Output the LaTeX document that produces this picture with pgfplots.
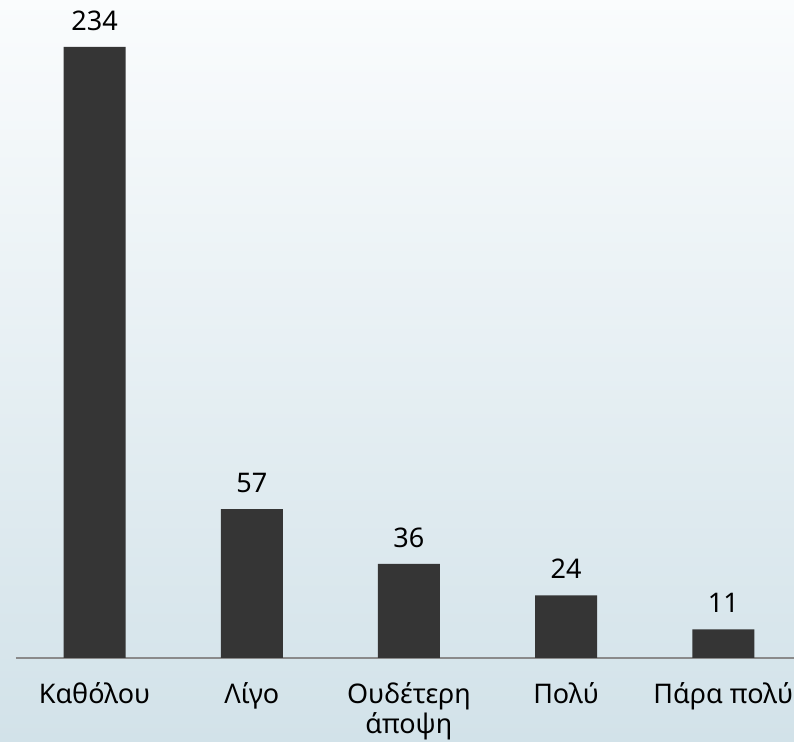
\documentclass[border=0pt]{standalone}
\usepackage{pgfplots}
\pgfplotsset{compat=1.18}
\usepackage{fontspec}
\setmainfont{Noto Sans}
\definecolor{bgtop}{HTML}{FAFCFD}
\definecolor{bgbot}{HTML}{D2E2E9}
\definecolor{barcol}{HTML}{353535}
\definecolor{axcol}{HTML}{8A8A8A}
\begin{document}
\begin{tikzpicture}
% 1 px = 0.5pt, picture 794x742 px
\useasboundingbox (0,0) rectangle (397pt,371pt);
\clip (0,0) rectangle (397pt,371pt);
\shade[top color=bgtop, bottom color=bgbot] (0,0) rectangle (397pt,371pt);
\begin{axis}[
    at={(8pt,42pt)}, anchor=south west,
    scale only axis,
    width=389pt, height=329pt,
    xmin=-0.5, xmax=4.45,
    ymin=0, ymax=252,
    axis x line*=bottom,
    axis y line=none,
    x axis line style={-, draw=axcol, line width=1pt},
    xtick=data,
    xticklabels={Καθόλου, Λίγο, {Ουδέτερη\\άποψη}, Πολύ, Πάρα πολύ},
    major tick length=0pt,
    xticklabel style={align=center, inner sep=0pt, yshift=-12pt, font=\fontsize{13.5}{15}\selectfont},
    ybar, bar width=31pt,
    /pgf/number format/assume math mode=true,
    nodes near coords,
    nodes near coords style={anchor=south, inner sep=0pt, yshift=8pt, font=\fontsize{13.5}{15}\selectfont, text=black},
    clip=false,
]
\addplot[fill=barcol, draw=none] coordinates {
    (0,234)
    (1,57)
    (2,36)
    (3,24)
    (4,11)
};
\end{axis}
\end{tikzpicture}
\end{document}
